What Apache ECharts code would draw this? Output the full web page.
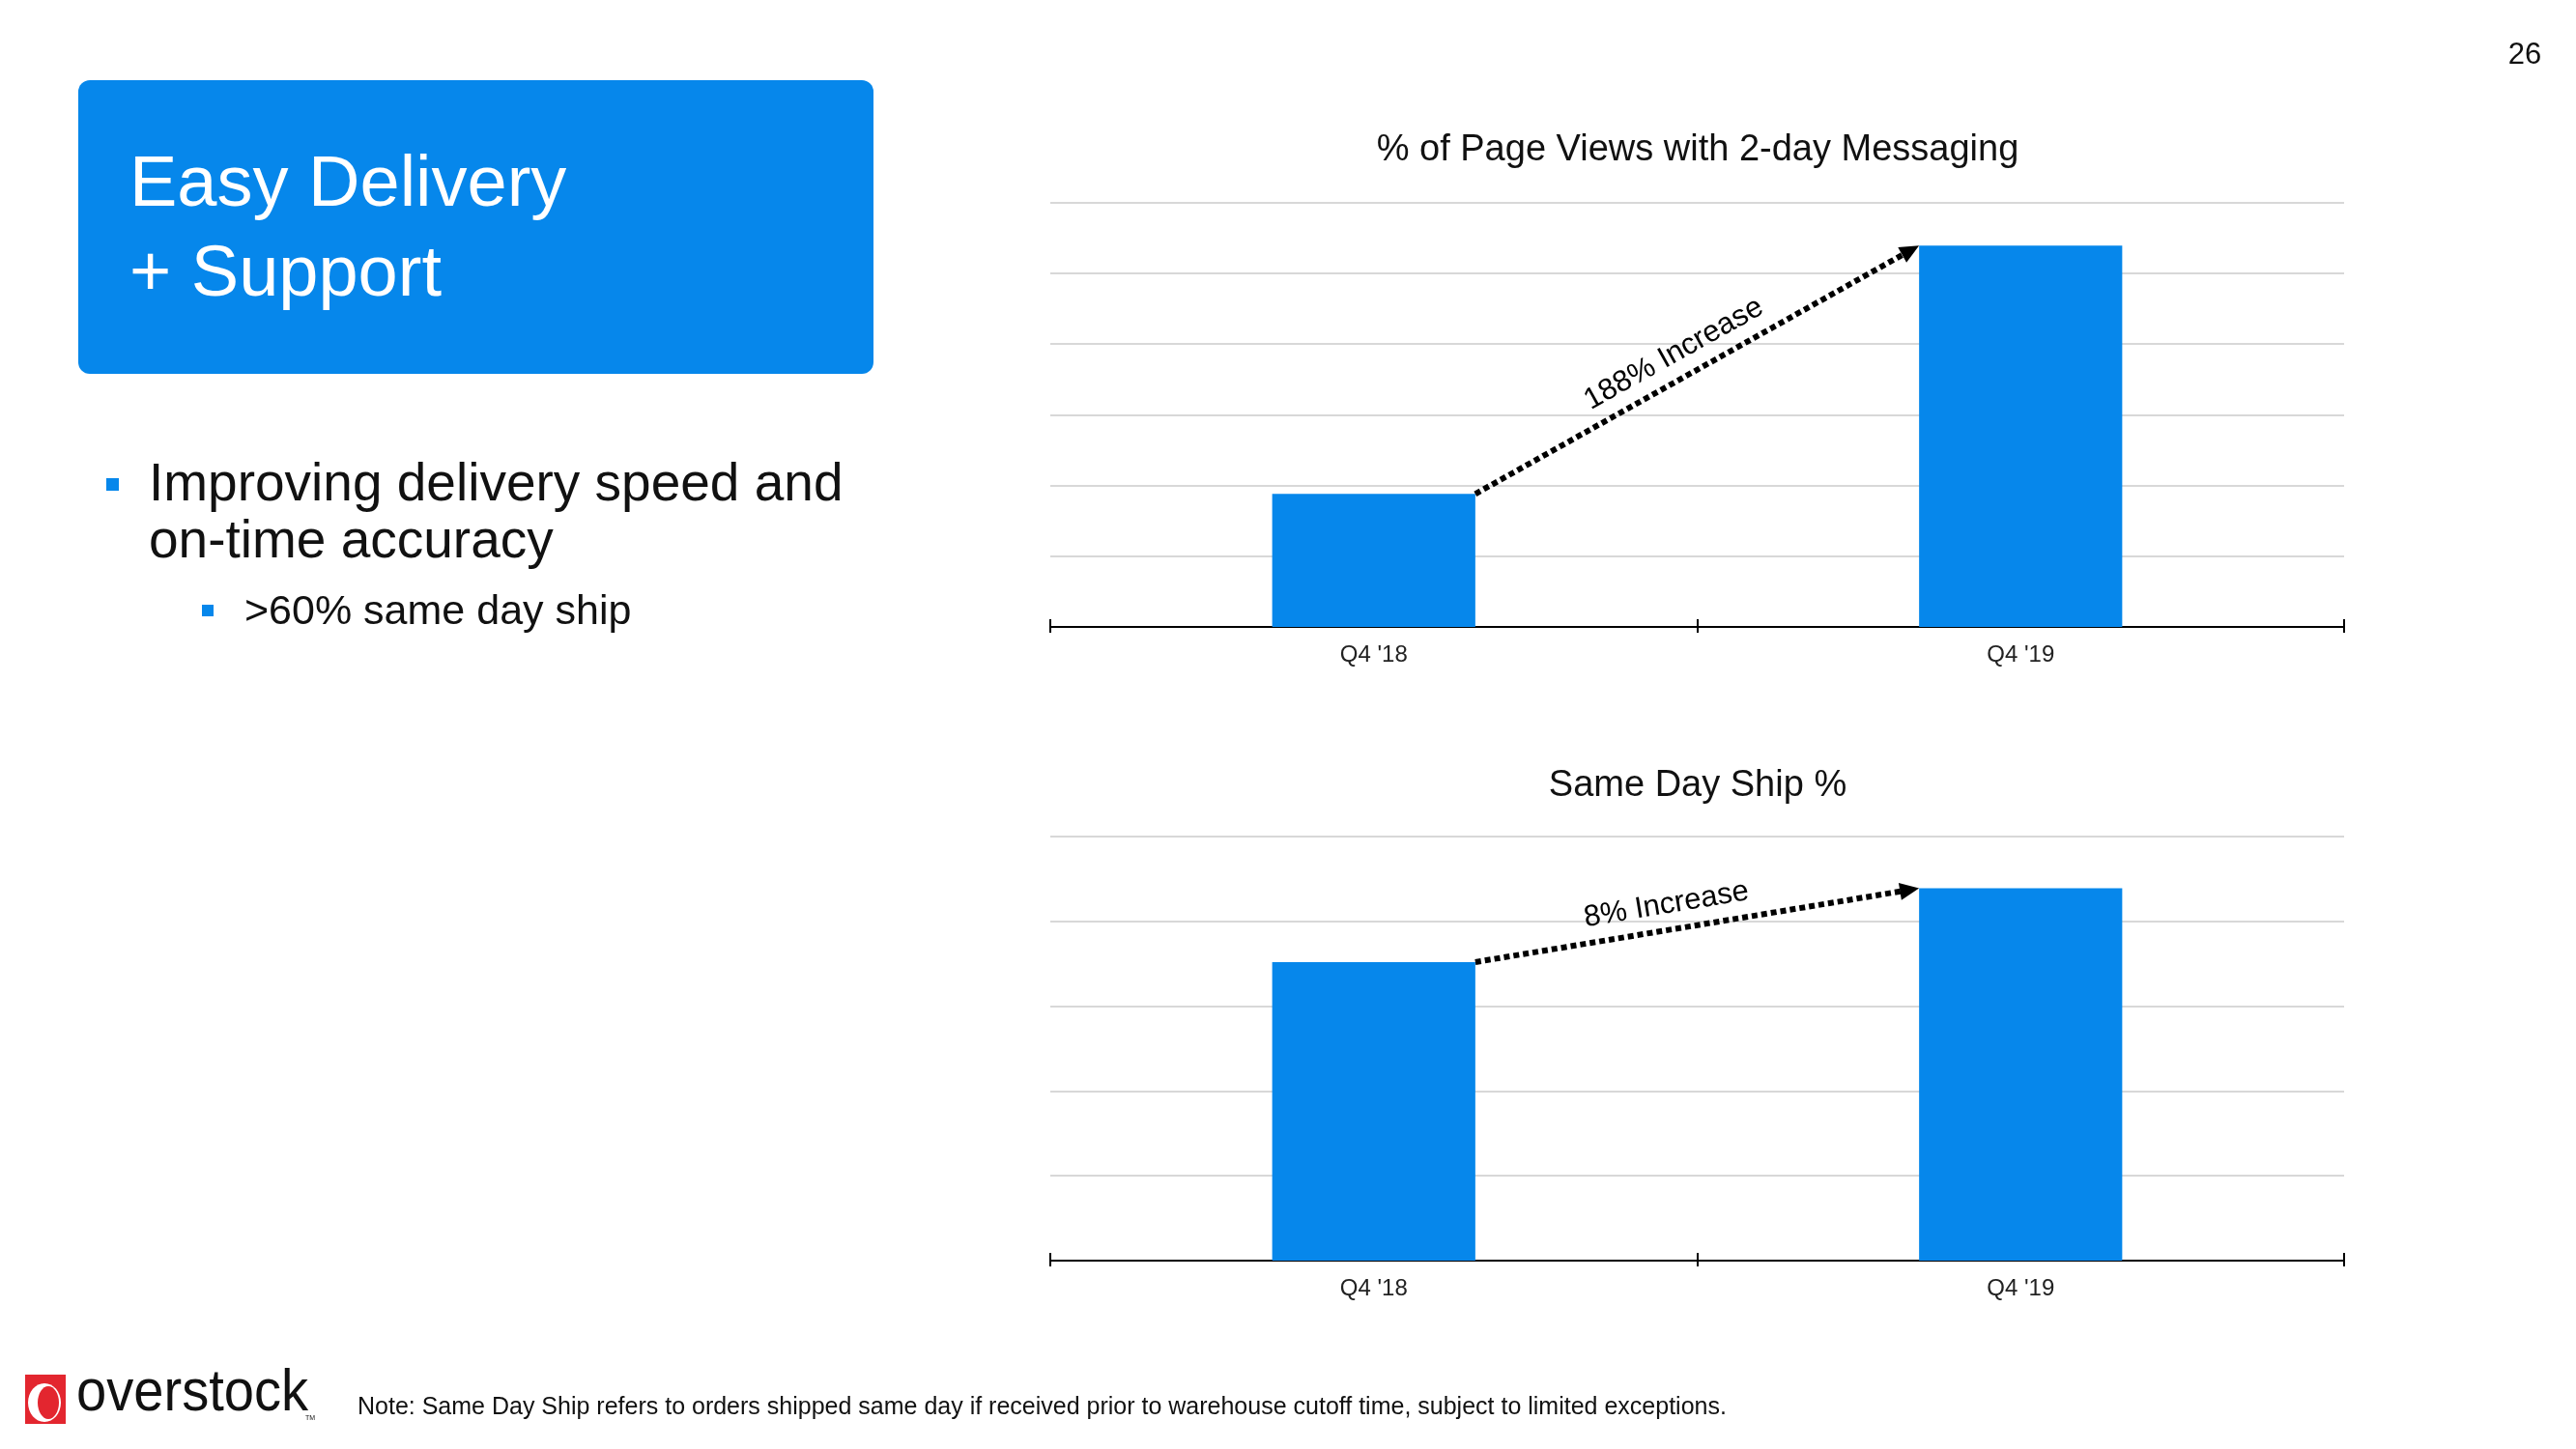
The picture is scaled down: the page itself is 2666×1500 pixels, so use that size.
<!DOCTYPE html>
<html>
<head>
<meta charset="utf-8">
<script src="https://cdn.jsdelivr.net/npm/echarts@6/dist/echarts.min.js"></script>
<style>
  html, body { margin: 0; padding: 0; background: #fff; }
  #chart { width: 2666px; height: 1500px; }
</style>
</head>
<body>
<div id="chart"></div>
<script>
// ---- data ----
const categories = ["Q4 '18", "Q4 '19"];
const pageViewsPct = [18.8, 53.9];      // % of page views with 2-day messaging
const sameDayShipPct = [35.2, 43.9];    // same day ship %
const increaseLabels = ['188% Increase', '8% Increase'];
const chartTitles = ['% of Page Views with 2-day Messaging', 'Same Day Ship %'];
const headline = ['Easy Delivery', '+ Support'];
const bullets = ['Improving delivery speed and', 'on-time accuracy'];
const subBullets = ['>60% same day ship'];
const noteText = 'Note: Same Day Ship refers to orders shipped same day if received prior to warehouse cutoff time, subject to limited exceptions.';
const pageNumber = '26';

const BLUE = '#0687EB';
const FONT = '"Liberation Sans", Arial, sans-serif';
const BAR_FRAC = 0.314;

function arrowRenderer(label, t) {
  return function (params, api) {
    const p0 = api.coord([api.value(0), api.value(1)]);
    const p1 = api.coord([api.value(2), api.value(3)]);
    const band = api.size([1, 0])[0];
    const half = band * BAR_FRAC / 2;
    const s = [p0[0] + half, p0[1]];
    const e = [p1[0] - half, p1[1]];
    const dx = e[0] - s[0], dy = e[1] - s[1];
    const len = Math.sqrt(dx * dx + dy * dy);
    const ux = dx / len, uy = dy / len;
    const px = uy, py = -ux; // perpendicular pointing "up" side
    const headLen = 20, headW = 18;
    const b = [e[0] - ux * headLen, e[1] - uy * headLen];
    const off = 26;
    const m = [s[0] + dx * t + px * off, s[1] + dy * t + py * off];
    const ang = Math.atan2(-dy, dx);
    return {
      type: 'group',
      children: [
        { type: 'line', shape: { x1: s[0], y1: s[1], x2: b[0] + ux * 2, y2: b[1] + uy * 2 },
          style: { stroke: '#000', lineWidth: 6, lineDash: [6, 4], lineCap: 'butt' } },
        { type: 'polygon', shape: { points: [e,
            [b[0] + px * headW / 2, b[1] + py * headW / 2],
            [b[0] - px * headW / 2, b[1] - py * headW / 2]] },
          style: { fill: '#000' } },
        { type: 'text', x: m[0], y: m[1], rotation: ang,
          style: { text: label, fontFamily: FONT, fontSize: 31, fill: '#000', align: 'center', verticalAlign: 'middle' } }
      ]
    };
  };
}

function xAxesFor(gridIndex) {
  return [
    { type: 'category', gridIndex: gridIndex, data: categories, boundaryGap: true,
      axisLine: { show: true, lineStyle: { color: '#000', width: 2 } },
      axisTick: { show: true, length: 6, lineStyle: { color: '#000', width: 2 } },
      axisLabel: { margin: 17, fontFamily: FONT, fontSize: 24, color: '#222' } },
    { type: 'category', gridIndex: gridIndex, data: categories, boundaryGap: true, position: 'bottom',
      axisLine: { show: false },
      axisTick: { show: true, inside: true, length: 8, lineStyle: { color: '#000', width: 2 } },
      axisLabel: { show: false } }
  ];
}

function yAxisFor(gridIndex, max) {
  return { type: 'value', gridIndex: gridIndex, min: 0, max: max, interval: 10,
    axisLine: { show: false }, axisTick: { show: false }, axisLabel: { show: false },
    splitLine: { show: true, lineStyle: { color: '#D8D8D8', width: 2 } } };
}

const titleStyle = { fontFamily: FONT, fontSize: 38, fontWeight: 'normal', color: '#111' };

const option = {
  animation: false,
  backgroundColor: '#ffffff',
  title: [
    { text: chartTitles[0], left: 1757, top: 137, textAlign: 'center', padding: 0, textStyle: titleStyle },
    { text: chartTitles[1], left: 1757, top: 795, textAlign: 'center', padding: 0, textStyle: titleStyle }
  ],
  grid: [
    { left: 1087, right: 240, top: 209.5, bottom: 851 },
    { left: 1087, right: 240, top: 866, bottom: 195 }
  ],
  xAxis: [].concat(xAxesFor(0), xAxesFor(1)),
  yAxis: [yAxisFor(0, 60), yAxisFor(1, 50)],
  series: [
    { type: 'bar', xAxisIndex: 0, yAxisIndex: 0, data: pageViewsPct, barWidth: (BAR_FRAC * 100) + '%',
      itemStyle: { color: BLUE }, z: 2 },
    { type: 'bar', xAxisIndex: 2, yAxisIndex: 1, data: sameDayShipPct, barWidth: (BAR_FRAC * 100) + '%',
      itemStyle: { color: BLUE }, z: 2 },
    { type: 'custom', xAxisIndex: 0, yAxisIndex: 0, z: 5,
      data: [[0, pageViewsPct[0], 1, pageViewsPct[1]]], encode: { x: [0, 2], y: [1, 3] },
      renderItem: arrowRenderer(increaseLabels[0], 0.475) },
    { type: 'custom', xAxisIndex: 2, yAxisIndex: 1, z: 5,
      data: [[0, sameDayShipPct[0], 1, sameDayShipPct[1]]], encode: { x: [0, 2], y: [1, 3] },
      renderItem: arrowRenderer(increaseLabels[1], 0.44) }
  ],
  graphic: [
    { type: 'rect', shape: { x: 81, y: 83, width: 823, height: 304, r: 12 }, style: { fill: BLUE } },
    { type: 'text', x: 134, y: 193, style: { text: headline[0], fontFamily: FONT, fontSize: 74, fill: '#fff', verticalAlign: 'middle' } },
    { type: 'text', x: 134, y: 286, style: { text: headline[1], fontFamily: FONT, fontSize: 74, fill: '#fff', verticalAlign: 'middle' } },
    { type: 'rect', shape: { x: 110, y: 495, width: 13, height: 13 }, style: { fill: BLUE } },
    { type: 'text', x: 154, y: 503, style: { text: bullets[0], fontFamily: FONT, fontSize: 55, fill: '#111', verticalAlign: 'middle' } },
    { type: 'text', x: 154, y: 562, style: { text: bullets[1], fontFamily: FONT, fontSize: 55, fill: '#111', verticalAlign: 'middle' } },
    { type: 'rect', shape: { x: 209, y: 626, width: 12, height: 12 }, style: { fill: BLUE } },
    { type: 'text', x: 253, y: 634, style: { text: subBullets[0], fontFamily: FONT, fontSize: 43, fill: '#111', verticalAlign: 'middle' } },
    // logo
    { type: 'rect', shape: { x: 26, y: 1423, width: 42, height: 51 }, style: { fill: '#E3262F' } },
    { type: 'ellipse', shape: { cx: 46, cy: 1452, rx: 17, ry: 20 }, style: { fill: '#fff' } },
    { type: 'ellipse', shape: { cx: 50, cy: 1452, rx: 11, ry: 17 }, style: { fill: '#E3262F' } },
    { type: 'text', x: 79, y: 1474, scaleX: 0.92, style: { text: 'overstock', fontFamily: FONT, fontSize: 61, fill: '#111', verticalAlign: 'bottom' } },
    { type: 'text', x: 316, y: 1472, style: { text: 'TM', fontFamily: FONT, fontSize: 7, fill: '#111', verticalAlign: 'bottom' } },
    { type: 'text', x: 370, y: 1457, style: { text: noteText, fontFamily: FONT, fontSize: 25, fill: '#111', verticalAlign: 'middle' } },
    { type: 'text', x: 2613, y: 57, style: { text: pageNumber, fontFamily: FONT, fontSize: 31, fill: '#111', align: 'center', verticalAlign: 'middle' } }
  ]
};

const chart = echarts.init(document.getElementById('chart'), null, { renderer: 'canvas', width: 2666, height: 1500 });
chart.setOption(option);
</script>
</body>
</html>
